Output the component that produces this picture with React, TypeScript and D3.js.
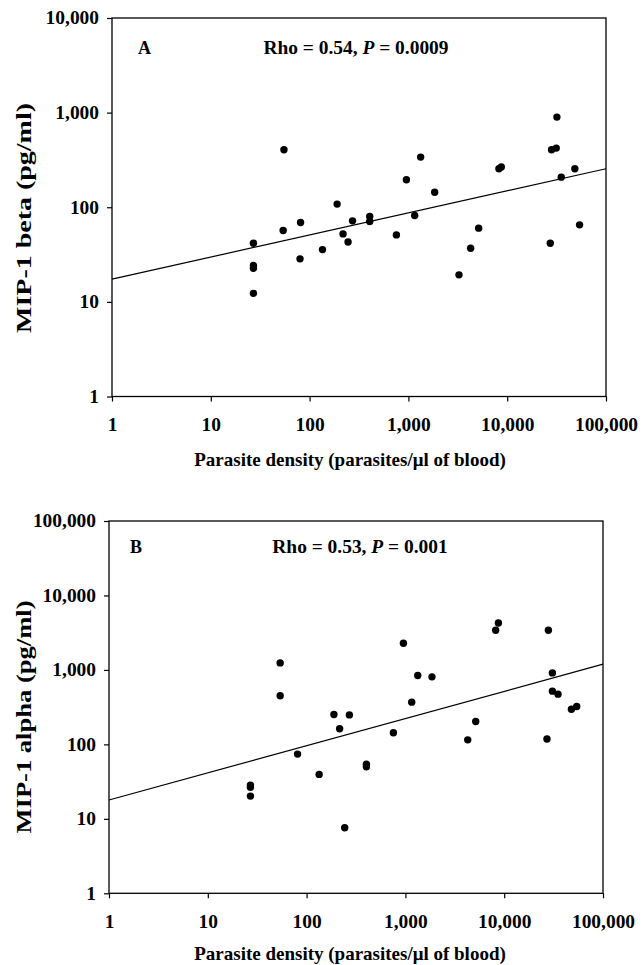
import { useEffect, useRef } from 'react';
import * as d3 from 'd3';

// shared x axis (parasite density)
const densityTicks = [1, 10, 100, 1000, 10000, 100000];
const densityTitle = 'Parasite density (parasites/\u03bcl of blood)';

// panel A - MIP-1 beta
const betaDensity = [27, 27, 27, 27, 55, 54, 81, 80, 135, 190, 218, 245, 272, 406, 406, 756, 955, 1331, 1158, 1845, 3250, 4265, 5140, 8245, 8715, 27300, 28100, 31350, 31850, 35250, 48400, 54000];
const betaLevel = [41.7, 24.2, 22.7, 12.3, 405, 56.7, 68.9, 28.5, 35.7, 108, 52.3, 43, 71.8, 79.7, 70.6, 51, 195, 339, 81.7, 144, 19.3, 36.9, 60.1, 255, 266, 41.7, 405, 422, 897, 208, 255, 65.2];
const betaTicks = [1, 10, 100, 1000, 10000];
const betaFit: [number, number][] = [[1, 17.4], [100000, 255]];
const betaTitle = 'MIP-1 beta (pg/ml)';
const betaStats = ['Rho = 0.54, ', 'P', ' = 0.0009'];

// panel B - MIP-1 alpha
const alphaDensity = [27, 27, 27, 54, 54, 81, 134, 189, 216, 243, 271, 403, 403, 756, 955, 1158, 1333, 1858, 4273, 5148, 8201, 8735, 27100, 28000, 30750, 30750, 35060, 47900, 54200];
const alphaLevel = [28.4, 26.5, 20.2, 1243, 449, 74, 39.5, 252, 162, 7.6, 249, 54.3, 50, 143, 2285, 369, 842, 807, 115, 203, 3413, 4277, 118, 3413, 912, 519, 473, 297, 323];
const alphaTicks = [1, 10, 100, 1000, 10000, 100000];
const alphaFit: [number, number][] = [[1, 17.9], [100000, 1194]];
const alphaTitle = 'MIP-1 alpha (pg/ml)';
const alphaStats = ['Rho = 0.53, ', 'P', ' = 0.001'];

const FONT = "'Liberation Serif', 'Times New Roman', serif";

const panels = [
  {
    label: 'A', xs: betaDensity, ys: betaLevel, yTicks: betaTicks, fit: betaFit, title: betaTitle, stats: betaStats,
    left: 112, right: 606, top: 18, bottom: 396.5,
    labelX: 138, labelY: 54, statsX: 356, xTitleY: 466, yTitleMid: 218, yTitleLen: 230,
  },
  {
    label: 'B', xs: alphaDensity, ys: alphaLevel, yTicks: alphaTicks, fit: alphaFit, title: alphaTitle, stats: alphaStats,
    left: 109, right: 603, top: 521, bottom: 893.3,
    labelX: 130, labelY: 553, statsX: 360, xTitleY: 960, yTitleMid: 717, yTitleLen: 233,
  },
];

export default function App() {
  const svgRef = useRef<SVGSVGElement>(null);

  useEffect(() => {
    const svg = d3.select(svgRef.current);
    svg.selectAll('*').remove();
    const fmt = d3.format(',');

    panels.forEach((p) => {
      const x = d3.scaleLog().domain([1, 100000]).range([p.left, p.right]);
      const y = d3.scaleLog().domain([1, p.yTicks[p.yTicks.length - 1]]).range([p.bottom, p.top]);
      const g = svg.append('g');

      // frame
      g.append('rect')
        .attr('x', p.left).attr('y', p.top)
        .attr('width', p.right - p.left).attr('height', p.bottom - p.top)
        .attr('fill', 'none').attr('stroke', '#000').attr('stroke-width', 1.3);

      // axes
      const xa = g.append('g')
        .attr('transform', `translate(0,${p.bottom})`)
        .call(d3.axisBottom(x).tickValues(densityTicks).tickFormat(fmt as any).tickSize(5).tickPadding(17));
      const ya = g.append('g')
        .attr('transform', `translate(${p.left},0)`)
        .call(d3.axisLeft(y).tickValues(p.yTicks).tickFormat(fmt as any).tickSize(5).tickPadding(7));

      [xa, ya].forEach((a) => {
        a.select('.domain').remove();
        a.selectAll('line').attr('stroke', '#000').attr('stroke-width', 1.2);
        a.selectAll('text')
          .attr('fill', '#000')
          .style('font-family', FONT)
          .style('font-weight', 'bold')
          .style('font-size', '18px')
          .attr('transform', 'scale(1.08,1)');
      });

      // regression line
      g.append('path')
        .attr('d', d3.line<[number, number]>().x(d => x(d[0])).y(d => y(d[1]))(p.fit))
        .attr('fill', 'none').attr('stroke', '#000').attr('stroke-width', 1.2);

      // points
      g.selectAll('circle.pt')
        .data(p.xs.map((v, i) => [v, p.ys[i]]))
        .enter()
        .append('circle')
        .attr('class', 'pt')
        .attr('cx', d => x(d[0]))
        .attr('cy', d => y(d[1]))
        .attr('r', 3.7)
        .attr('fill', '#000');

      // panel letter and stats
      g.append('text')
        .attr('x', p.labelX).attr('y', p.labelY)
        .style('font-family', FONT).style('font-weight', 'bold').style('font-size', '18px')
        .text(p.label);

      const st = g.append('text')
        .attr('transform', `translate(${p.statsX},${p.labelY}) scale(1.08,1)`)
        .attr('text-anchor', 'middle')
        .style('font-family', FONT).style('font-weight', 'bold').style('font-size', '18px');
      st.append('tspan').text(p.stats[0]);
      st.append('tspan').style('font-style', 'italic').text(p.stats[1]);
      st.append('tspan').text(p.stats[2]);

      // axis titles
      g.append('text')
        .attr('x', 350).attr('y', p.xTitleY)
        .attr('text-anchor', 'middle')
        .style('font-family', FONT).style('font-weight', 'bold').style('font-size', '19px')
        .text(densityTitle);

      g.append('text')
        .attr('transform', `translate(31,${p.yTitleMid}) rotate(-90)`)
        .attr('text-anchor', 'middle')
        .attr('textLength', p.yTitleLen)
        .attr('lengthAdjust', 'spacingAndGlyphs')
        .style('font-family', FONT).style('font-weight', 'bold').style('font-size', '22px')
        .text(p.title);
    });
  }, []);

  return (
    <svg
      ref={svgRef}
      width={644}
      height={965}
      style={{ position: 'absolute', left: 0, top: 0, background: '#fff' }}
    />
  );
}
